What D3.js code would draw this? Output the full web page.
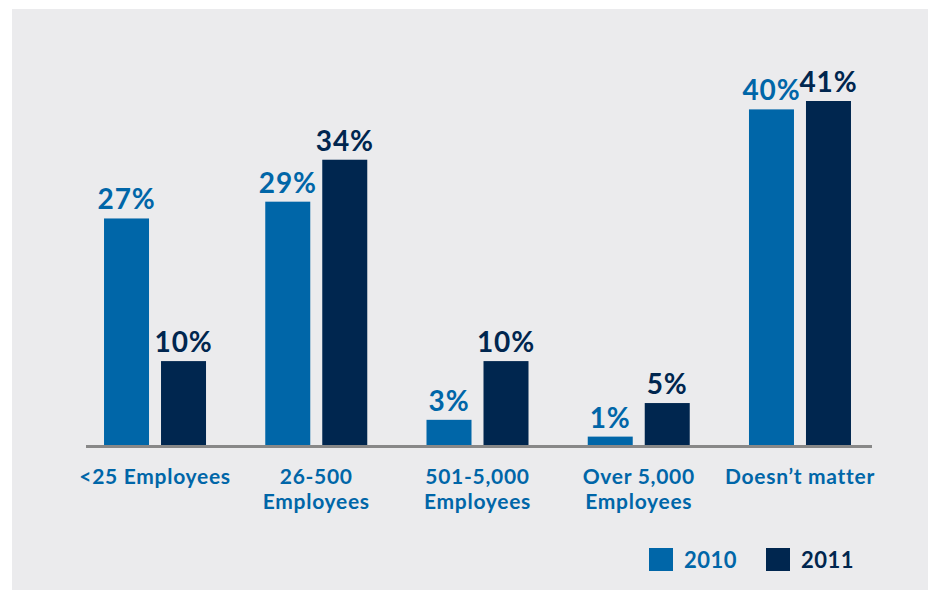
<!DOCTYPE html>
<html>
<head>
<meta charset="utf-8">
<script src="https://cdn.jsdelivr.net/npm/d3@7"></script>
<style>
  html, body { margin: 0; padding: 0; background: #ffffff; }
  svg { display: block; font-family: Lato, "Open Sans", sans-serif; }
</style>
</head>
<body>
<svg id="chart" width="928" height="590"></svg>
<script>
// Company size preference, 2010 vs 2011 (percent of respondents)
const categories = [["<25 Employees"], ["26-500", "Employees"], ["501-5,000", "Employees"], ["Over 5,000", "Employees"], ["Doesn\u2019t matter"]];
const series = ["2010", "2011"];
const values2010 = [27, 29, 3, 1, 40];
const values2011 = [10, 34, 10, 5, 41];
const seriesValues = [values2010, values2011];
const colors = ["#0066a8", "#00264f"];

const svg = d3.select("#chart");

// panel background
svg.append("rect").attr("x", 12).attr("y", 9).attr("width", 916).attr("height", 581).attr("fill", "#ebebed");

const catKeys = categories.map(c => c.join(" "));
const x0 = d3.scaleBand().domain(catKeys).range([74.4, 880.6]).paddingInner(0).paddingOuter(0);
const groupW = 102;
const x1 = d3.scaleBand().domain(series).range([0, groupW]).paddingInner(12 / 57).paddingOuter(0);
const y = d3.scaleLinear().domain([0, 41]).range([445, 101]);

const groups = svg.append("g").selectAll("g").data(catKeys).join("g")
  .attr("transform", d => `translate(${x0(d) + (x0.bandwidth() - groupW) / 2},0)`);

series.forEach((s, si) => {
  groups.append("rect")
    .attr("x", x1(s))
    .attr("width", x1.bandwidth())
    .attr("y", (d, i) => y(seriesValues[si][i]))
    .attr("height", (d, i) => y(0) - y(seriesValues[si][i]))
    .attr("fill", colors[si]);
  groups.append("text")
    .attr("x", x1(s) + x1.bandwidth() / 2)
    .attr("y", (d, i) => y(seriesValues[si][i]) - 9)
    .attr("text-anchor", "middle")
    .attr("font-size", 28)
    .attr("font-weight", 700)
    .attr("letter-spacing", 0.8)
    .attr("fill", colors[si])
    .text((d, i) => seriesValues[si][i] + "%");
});

// baseline
svg.append("line").attr("x1", 86).attr("x2", 872).attr("y1", 446.5).attr("y2", 446.5)
  .attr("stroke", "#888888").attr("stroke-width", 3);

// category labels
const xAxis = d3.axisBottom(x0).tickSize(0).tickFormat("");
const axisG = svg.append("g").attr("transform", "translate(0,446)").call(xAxis);
axisG.select(".domain").remove();
axisG.selectAll(".tick").each(function (d, i) {
  const t = d3.select(this).append("text")
    .attr("text-anchor", "middle")
    .attr("font-size", 21)
    .attr("font-weight", 700)
    .attr("letter-spacing", 0.7)
    .attr("fill", "#0066a8")
    .attr("font-family", "Lato, 'Open Sans', sans-serif");
  categories[i].forEach((line, li) => {
    t.append("tspan").attr("x", 0).attr("y", 38 + li * 25).text(line);
  });
});

// legend
const legend = svg.append("g");
const legendX = [649, 766];
series.forEach((s, si) => {
  legend.append("rect").attr("x", legendX[si]).attr("y", 548).attr("width", 24).attr("height", 23).attr("fill", colors[si]);
  legend.append("text").attr("x", legendX[si] + 35).attr("y", 568)
    .attr("font-size", 22).attr("font-weight", 700).attr("letter-spacing", 0.5).attr("fill", colors[si]).text(s);
});
</script>
</body>
</html>
